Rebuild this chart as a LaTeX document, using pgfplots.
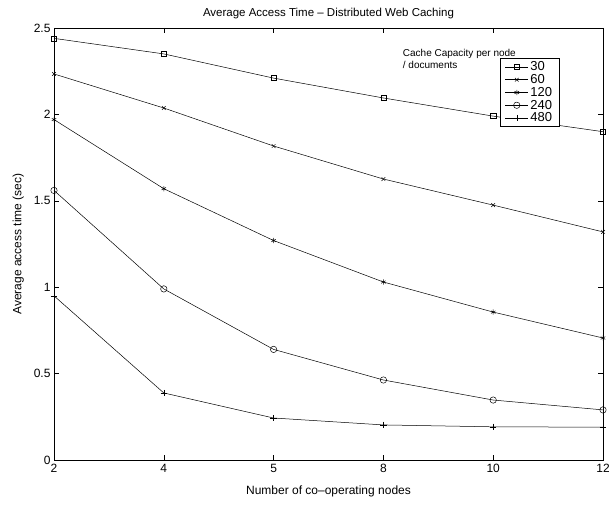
\documentclass[border=0pt]{standalone}
\usepackage{pgfplots}
\pgfplotsset{compat=1.18}
\usepackage{fontspec}
\setmainfont{Liberation Sans}
\begin{document}
\begin{tikzpicture}[x=1pt,y=1pt]
\useasboundingbox (-54,-46) rectangle (555,460);
\begin{axis}[
  scale only axis,
  width=549pt, height=432pt,
  xmin=0, xmax=5, ymin=0, ymax=2.5,
  xtick={0,1,2,3,4,5},
  xticklabels={2,4,5,8,10,12},
  ytick={0,0.5,1,1.5,2,2.5},
  yticklabels={0,0.5,1,1.5,2,2.5},
  tick align=inside,
  tick pos=both,
  major tick length=5pt,
  tick style={black, line width=0.5pt},
  axis line style={line width=0.7pt},
  ticklabel style={font=\fontsize{12}{13}\selectfont},
  xticklabel style={yshift=-1pt},
  title={Average Access Time -- Distributed Web Caching},
  title style={font=\fontsize{11.5}{13}\selectfont, yshift=0pt},
  xlabel={Number of co--operating nodes},
  ylabel={Average access time (sec)},
  label style={font=\fontsize{12}{13}\selectfont},
  xlabel style={yshift=-6pt},
  ylabel style={yshift=3pt},
  legend style={at={(0.812,0.931)}, anchor=north west, font=\fontsize{13}{14}\selectfont, draw=black, line width=0.7pt, inner xsep=5pt, inner ysep=1.5pt, row sep=-1.8pt, cells={anchor=west}},
  legend cell align=left,
  legend image code/.code={\draw[mark repeat=2,mark phase=2] plot coordinates {(0cm,0cm) (0.4cm,0cm) (0.8cm,0cm)};},
  clip=false,
]
\addplot[black, line width=0.5pt, mark=square, mark size=2.6pt, mark options={solid}] coordinates {(0,2.44) (1,2.35) (2,2.21) (3,2.095) (4,1.99) (5,1.90)};
\addplot[black, line width=0.5pt, mark=x, mark size=2.6pt, mark options={solid}] coordinates {(0,2.234) (1,2.037) (2,1.817) (3,1.626) (4,1.475) (5,1.32)};
\addplot[black, line width=0.5pt, mark=asterisk, mark size=2.6pt, mark options={solid}] coordinates {(0,1.97) (1,1.57) (2,1.27) (3,1.03) (4,0.856) (5,0.706)};
\addplot[black, line width=0.5pt, mark=o, mark size=3.2pt, mark options={solid}] coordinates {(0,1.56) (1,0.99) (2,0.64) (3,0.463) (4,0.347) (5,0.29)};
\addplot[black, line width=0.5pt, mark=+, mark size=3.2pt, mark options={solid}] coordinates {(0,0.95) (1,0.388) (2,0.243) (3,0.203) (4,0.192) (5,0.19)};
\legend{30,60,120,240,480}
\node[anchor=north west, align=left, font=\fontsize{10}{12}\selectfont, inner sep=0pt] at (axis cs:3.176,2.38) {Cache Capacity per node\\/ documents};
\end{axis}
\end{tikzpicture}
\end{document}
